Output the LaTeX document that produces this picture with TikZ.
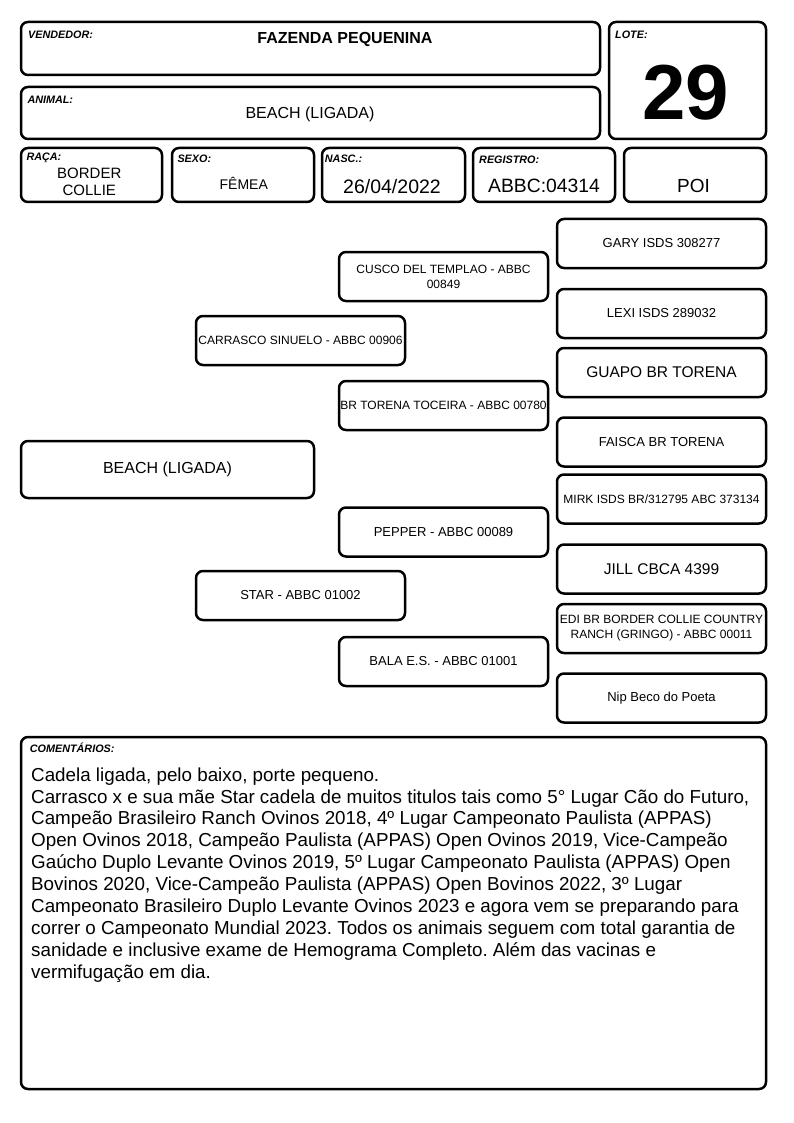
\documentclass[tikz,border=0pt]{standalone}
\usepackage{fontspec}
\setmainfont{Liberation Sans}
\usetikzlibrary{positioning}
\frenchspacing

\tikzset{
  caixa/.style={draw, line width=2.5pt, rounded corners=7pt, inner sep=0pt},
  rotulo/.style={anchor=base west, inner sep=0pt, font=\fontsize{10.8}{12}\selectfont\bfseries\itshape},
  valor/.style={anchor=base, inner sep=0pt},
  ped/.style={caixa, minimum width=209pt, minimum height=49pt, align=center, font=\fontsize{13}{15}\selectfont},
}

\begin{document}
\begin{tikzpicture}[x=1pt, y=-1pt]
  \useasboundingbox (0,0) rectangle (794,1123);

  % ficha
  \node[caixa, minimum width=579pt, minimum height=53pt] (vendedor) at (310.5,48.5) {};
  \node[caixa, minimum width=157pt, minimum height=117pt] (lote) at (687.5,80.5) {};
  \node[caixa, minimum width=579pt, minimum height=52pt] (animal) at (310.5,113) {};
  \node[caixa, minimum width=141pt, minimum height=54pt] (raca) at (91.5,175) {};
  \node[caixa, minimum width=142pt, minimum height=54pt] (sexo) at (243,175) {};
  \node[caixa, minimum width=143pt, minimum height=54pt] (nasc) at (393.5,175) {};
  \node[caixa, minimum width=142pt, minimum height=54pt] (registro) at (544,175) {};
  \node[caixa, minimum width=142pt, minimum height=54pt] (poi) at (695,175) {};

  \node[rotulo] (lvendedor) at (28,39) {VENDEDOR:};
  \node[rotulo] (llote) at (615,38.3) {LOTE:};
  \node[rotulo] (lanimal) at (27.3,103.3) {ANIMAL:};
  \node[rotulo] (lraca) at (26.3,160.7) {RAÇA:};
  \node[rotulo] (lsexo) at (177.3,163) {SEXO:};
  \node[rotulo] (lnasc) at (324.7,163) {NASC.:};
  \node[rotulo] (lregistro) at (479,164) {REGISTRO:};

  \node[valor, font=\fontsize{16}{18}\selectfont\bfseries] (tvendedor) at (345,43.3) {FAZENDA PEQUENINA};
  \node[valor, font=\fontsize{78}{80}\selectfont\bfseries] (tlote) at (686,119.3) {29};
  \node[valor, font=\fontsize{16}{18}\selectfont] (tanimal) at (310,118.5) {BEACH (LIGADA)};
  \node[anchor=north, inner sep=0pt, align=center, font=\fontsize{15}{16.7}\selectfont] (traca) at (89.3,166.6) {\strut BORDER\\COLLIE};
  \node[valor, font=\fontsize{14}{16}\selectfont] (tsexo) at (243.8,189.3) {FÊMEA};
  \node[valor, font=\fontsize{19.5}{22}\selectfont] (tnasc) at (392,193.3) {26/04/2022};
  \node[valor, font=\fontsize{19.3}{22}\selectfont] (tregistro) at (544,192.7) {ABBC:04314};
  \node[valor, font=\fontsize{19}{22}\selectfont] (tpoi) at (693.5,192.7) {POI};

  % pedigree
  \node[ped, minimum width=293pt, minimum height=57pt, font=\fontsize{16}{18}\selectfont] (beach) at (167.5,469.5) {BEACH (LIGADA)};

  \node[ped, font=\fontsize{12}{14}\selectfont] (carrasco) at (300.5,340.5) {CARRASCO SINUELO - ABBC 00906};
  \node[ped] (star) at (300.5,595.5) {STAR - ABBC 01002};

  \node[ped, font=\fontsize{12}{15}\selectfont] (cusco) at (443.5,276.5) {CUSCO DEL TEMPLAO - ABBC\\00849};
  \node[ped, font=\fontsize{12}{14}\selectfont] (toceira) at (443.5,405.5) {BR TORENA TOCEIRA - ABBC 00780};
  \node[ped] (pepper) at (443.5,532) {PEPPER - ABBC 00089};
  \node[ped] (bala) at (443.5,661.5) {BALA E.S. - ABBC 01001};

  \node[ped] (gary) at (661.5,243.5) {GARY ISDS 308277};
  \node[ped] (lexi) at (661.5,313.5) {LEXI ISDS 289032};
  \node[ped, font=\fontsize{15.5}{17}\selectfont] (guapo) at (661.5,372.5) {GUAPO BR TORENA};
  \node[ped] (faisca) at (661.5,442) {FAISCA BR TORENA};
  \node[ped, font=\fontsize{12}{14}\selectfont] (mirk) at (661.5,499) {MIRK ISDS BR/312795 ABC 373134};
  \node[ped, font=\fontsize{15.5}{17}\selectfont] (jill) at (661.5,569) {JILL CBCA 4399};
  \node[ped, font=\fontsize{12}{15}\selectfont] (edi) at (661.5,628.5) {EDI BR BORDER COLLIE COUNTRY\\RANCH (GRINGO) - ABBC 00011};
  \node[ped] (nip) at (661.5,698) {Nip Beco do Poeta};

  % comentarios
  \node[caixa, minimum width=745pt, minimum height=352pt] (comentarios) at (393.5,913) {};
  \node[rotulo] (lcomentarios) at (29.7,752) {COMENTÁRIOS:};
  \node[anchor=north west, inner sep=0pt, align=left, font=\fontsize{18.8}{21.9}\selectfont] (tcomentarios) at (31,765.6) {\strut Cadela ligada, pelo baixo, porte pequeno.\\
    Carrasco x e sua mãe Star cadela de muitos titulos tais como 5° Lugar Cão do Futuro,\\
    Campeão Brasileiro Ranch Ovinos 2018, 4º Lugar Campeonato Paulista (APPAS)\\
    Open Ovinos 2018, Campeão Paulista (APPAS) Open Ovinos 2019, Vice-Campeão\\
    Gaúcho Duplo Levante Ovinos 2019, 5º Lugar Campeonato Paulista (APPAS) Open\\
    Bovinos 2020, Vice-Campeão Paulista (APPAS) Open Bovinos 2022, 3º Lugar\\
    Campeonato Brasileiro Duplo Levante Ovinos 2023 e agora vem se preparando para\\
    correr o Campeonato Mundial 2023. Todos os animais seguem com total garantia de\\
    sanidade e inclusive exame de Hemograma Completo. Além das vacinas e\\
    vermifugação em dia.};
\end{tikzpicture}
\end{document}
